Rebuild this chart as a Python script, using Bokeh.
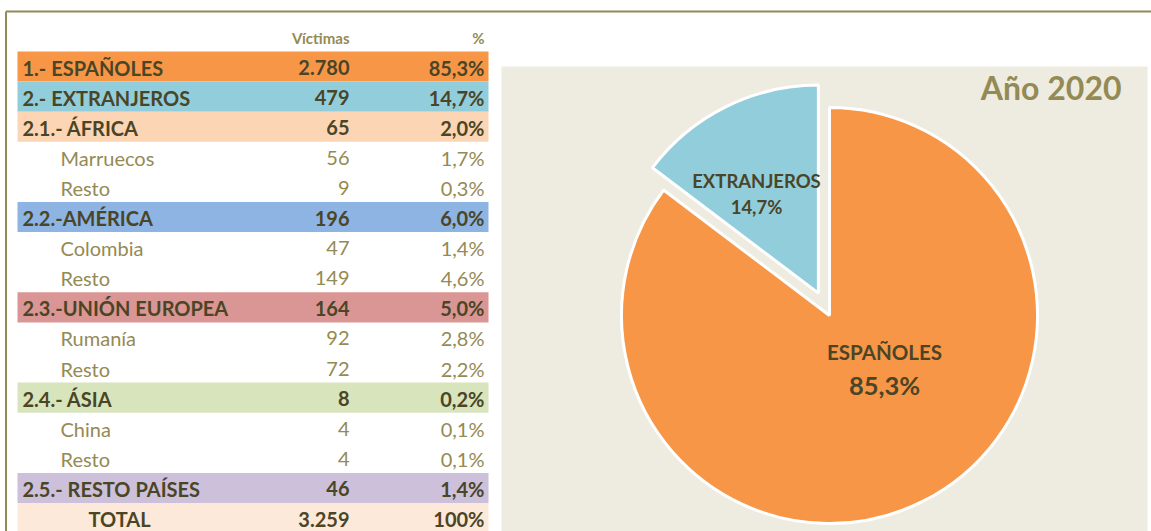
import math
from bokeh.plotting import figure
from bokeh.models import ColumnDataSource
from bokeh.core.properties import value
from bokeh.embed import file_html
from bokeh.resources import INLINE

# ---------------- data ----------------
row_labels = ["1.- ESPAÑOLES", "2.- EXTRANJEROS", "2.1.- ÁFRICA", "Marruecos", "Resto",
              "2.2.-AMÉRICA", "Colombia", "Resto", "2.3.-UNIÓN EUROPEA", "Rumanía", "Resto",
              "2.4.- ÁSIA", "China", "Resto", "2.5.- RESTO PAÍSES", "TOTAL"]
row_victimas = [2780, 479, 65, 56, 9, 196, 47, 149, 164, 92, 72, 8, 4, 4, 46, 3259]
row_pct = [85.3, 14.7, 2.0, 1.7, 0.3, 6.0, 1.4, 4.6, 5.0, 2.8, 2.2, 0.2, 0.1, 0.1, 1.4, 100]
row_kind = ["main", "main", "main", "sub", "sub", "main", "sub", "sub", "main", "sub", "sub",
            "main", "sub", "sub", "main", "total"]
row_fill = ["#F79646", "#92CDDC", "#FCD5B4", None, None, "#8DB4E2", None, None, "#DA9694",
            None, None, "#D8E4BC", None, None, "#CCC0DA", "#FDE9D9"]

header_labels = ["Víctimas", "%"]

pie_labels = ["EXTRANJEROS", "ESPAÑOLES"]
pie_values = [479, 2780]
pie_colors = ["#92CDDC", "#F79646"]
pie_title = "Año 2020"

# ---------------- helpers ----------------
W, H = 1151, 531
def Y(v):
    return H - v

DARK = "#4A4526"
LIGHT = "#948A54"
FONT = "Lato"

def fmt_int(n):
    return f"{n:,}".replace(",", ".")

def fmt_pct(v):
    if v == 100:
        return "100%"
    return f"{v:.1f}".replace(".", ",") + "%"

p = figure(width=W, height=H, x_range=(0, W), y_range=(0, H),
           output_backend="svg", toolbar_location=None, min_border=0,
           x_axis_location=None, y_axis_location=None)
p.grid.visible = False
p.outline_line_color = None
p.background_fill_color = "white"
p.border_fill_color = "white"

# frame lines
p.line(x=[5.5, 1160], y=[Y(11), Y(11)], line_color=LIGHT, line_width=2)
p.line(x=[5.5, 5.5], y=[Y(11), Y(540)], line_color=LIGHT, line_width=2)

# ---------------- table ----------------
ROW0 = 51.0
RH = 30.1
n = len(row_labels)
tops = [ROW0 + RH * i for i in range(n)]

fill_idx = [i for i in range(n) if row_fill[i]]
p.quad(left=[17] * len(fill_idx), right=[488] * len(fill_idx),
       top=[Y(tops[i]) for i in fill_idx], bottom=[Y(tops[i] + RH) for i in fill_idx],
       fill_color=[row_fill[i] for i in fill_idx], line_color=None)

# header
p.text(x=[349, 484], y=[Y(37), Y(37)], text=header_labels, text_align="right",
       text_baseline="middle", text_font=value(FONT), text_font_style="bold",
       text_font_size="15px", text_color=LIGHT)

for kind, style, color, size in [("main", "bold", DARK, "20px"),
                                 ("sub", "normal", LIGHT, "20px"),
                                 ("total", "bold", DARK, "20px")]:
    idx = [i for i in range(n) if row_kind[i] == kind]
    if kind == "main":
        lx, la = 22, "left"
    elif kind == "sub":
        lx, la = 60, "left"
    else:
        lx, la = 119, "center"
    ys = [Y(tops[i] + RH / 2 + 1) for i in idx]
    p.text(x=[lx] * len(idx), y=ys, text=[row_labels[i] for i in idx],
           text_align=la, text_baseline="middle", text_font=value(FONT),
           text_font_style=style, text_font_size=size, text_color=color)
    p.text(x=[349] * len(idx), y=ys, text=[fmt_int(row_victimas[i]) for i in idx],
           text_align="right", text_baseline="middle", text_font=value(FONT),
           text_font_style=style, text_font_size=size, text_color=color)
    p.text(x=[484] * len(idx), y=ys, text=[fmt_pct(row_pct[i]) for i in idx],
           text_align="right", text_baseline="middle", text_font=value(FONT),
           text_font_style=style, text_font_size=size, text_color=color)

# ---------------- pie ----------------
p.quad(left=[501], right=[1147], top=[Y(66)], bottom=[Y(540)],
       fill_color="#EEECE1", line_color=None)

total = sum(pie_values)
cx, cy, R = 829, 315, 208
explode = [25, 0]
start = math.pi / 2
starts, ends, xs, ys = [], [], [], []
for v, e in zip(pie_values, explode):
    a0 = start
    a1 = start + 2 * math.pi * v / total
    mid = (a0 + a1) / 2
    starts.append(a0)
    ends.append(a1)
    xs.append(cx + e * math.cos(mid))
    ys.append(Y(cy) + e * math.sin(mid))
    start = a1

src = ColumnDataSource(dict(x=xs, y=ys, s=starts, e=ends, c=pie_colors))
p.wedge(x="x", y="y", radius=R, radius_units="screen", start_angle="s", end_angle="e",
        fill_color="c", line_color="white", line_width=3, source=src)

p.text(x=[756, 756], y=[Y(180), Y(206)], text=[pie_labels[0], fmt_pct(row_pct[1])],
       text_align="center", text_baseline="middle", text_font=value(FONT),
       text_font_style="bold", text_font_size="18.5px", text_color=DARK)
p.text(x=[884], y=[Y(351)], text=[pie_labels[1]],
       text_align="center", text_baseline="middle", text_font=value(FONT),
       text_font_style="bold", text_font_size="20.5px", text_color=DARK)
p.text(x=[884], y=[Y(384)], text=[fmt_pct(row_pct[0])],
       text_align="center", text_baseline="middle", text_font=value(FONT),
       text_font_style="bold", text_font_size="25.5px", text_color=DARK)

p.text(x=[1121], y=[Y(87)], text=[pie_title], text_align="right",
       text_baseline="middle", text_font=value(FONT), text_font_style="bold",
       text_font_size="32px", text_color=LIGHT)

open("out.html", "w").write(file_html(p, INLINE))
